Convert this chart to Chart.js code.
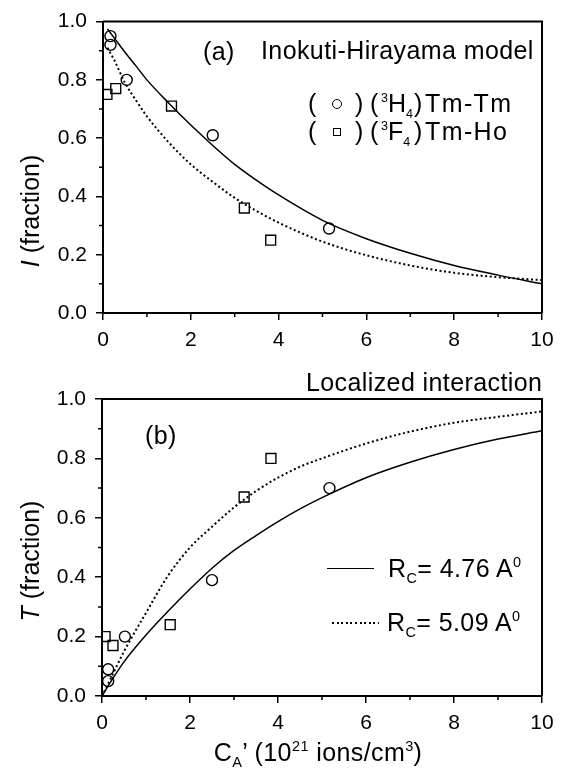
<!DOCTYPE html>
<html>
<head>
<meta charset="utf-8">
<script src="https://cdn.jsdelivr.net/npm/chart.js@4.4.0/dist/chart.umd.min.js"></script>
<style>
    body { margin: 0; background: #fff; width: 564px; height: 779px; overflow: hidden; position: relative;
           font-family: "Liberation Sans", Arial, Helvetica, sans-serif; color: #000; }
    .box { position: absolute; left: 0; width: 564px; }
    .t { position: absolute; white-space: nowrap; line-height: 1; font-size: 25px; letter-spacing: 0.4px; transform: translateY(-50%); }
    .c { transform: translate(-50%, -50%); }
    .rot { transform: translate(-50%, -50%) rotate(-90deg); letter-spacing: 0; }
    sup, sub { font-size: 0.58em; line-height: 0; }
    .lg { letter-spacing: 0; }
    .lg sup, .lg sub { font-size: 0.5em; }
    .mk { position: absolute; border: 1.4px solid #000; box-sizing: border-box; transform: translate(-50%, -50%); }
    .circ { width: 10px; height: 10px; border-radius: 50%; }
    .sq { width: 8px; height: 8px; }
    .ln { position: absolute; height: 0; border-top: 1.5px solid #000; }
    .dl { position: absolute; height: 2px; background: repeating-linear-gradient(90deg, #000 0 2px, transparent 2px 4.6px); }
</style>
</head>
<body>
<div class="box" style="top:0;height:368px"><canvas id="chartA" width="564" height="368"></canvas></div>
<div class="box" style="top:368px;height:411px"><canvas id="chartB" width="564" height="411"></canvas></div>

<!-- panel (a) texts -->
<div class="t" style="left:203px;top:51px">(a)</div>
<div class="t" style="left:261px;top:50px">Inokuti-Hirayama model</div>
<div class="t" style="left:308px;top:103px">(</div>
<div class="mk circ" style="left:337px;top:104px"></div>
<div class="t" style="left:355px;top:103px">)</div>
<div class="t" style="left:370px;top:103px">(</div>
<div class="t lg" style="left:381px;top:103px"><sup>3</sup>H<sub>4</sub></div>
<div class="t" style="left:414px;top:103px">)</div>
<div class="t" style="left:425px;top:103px;letter-spacing:1.4px">Tm-Tm</div>
<div class="t" style="left:308px;top:131px">(</div>
<div class="mk sq" style="left:337px;top:132px"></div>
<div class="t" style="left:355px;top:131px">)</div>
<div class="t" style="left:370px;top:131px">(</div>
<div class="t lg" style="left:381px;top:131px"><sup>3</sup>F<sub>4</sub></div>
<div class="t" style="left:414px;top:131px">)</div>
<div class="t" style="left:425px;top:131px;letter-spacing:1.4px">Tm-Ho</div>
<div class="t rot" style="left:30px;top:211px"><i>I</i> (fraction)</div>

<!-- panel (b) texts -->
<div class="t" style="left:306px;top:382px">Localized interaction</div>
<div class="t" style="left:145px;top:435px">(b)</div>
<div class="ln" style="left:327px;top:568px;width:47px"></div>
<div class="t" style="left:388px;top:568px">R<sub>C</sub>= 4.76 A<sup>0</sup></div>
<div class="dl" style="left:332px;top:622px;width:47px"></div>
<div class="t" style="left:387px;top:622px">R<sub>C</sub>= 5.09 A<sup>0</sup></div>
<div class="t rot" style="left:30px;top:561px"><i>T</i> (fraction)</div>
<div class="t c" style="left:318px;top:752px">C<sub>A</sub>&rsquo; (10<sup>21</sup> ions/cm<sup>3</sup>)</div>

<script>
// tick values
const majorX = [0, 2, 4, 6, 8, 10];
const minorX = [1, 3, 5, 7, 9];
const minorY = [0.1, 0.3, 0.5, 0.7, 0.9];

// panel (a): I (fraction), Inokuti-Hirayama model
const tmTmXa = [0.17, 0.17, 0.54, 2.50, 5.15];
const tmTmIa = [0.95, 0.92, 0.80, 0.61, 0.29];
const tmHoXa = [0.09, 0.29, 1.56, 3.22, 3.82];
const tmHoIa = [0.75, 0.77, 0.71, 0.36, 0.25];
const fitXa = [0.1, 0.25, 0.5, 0.75, 1, 1.5, 2, 2.5, 3, 3.5, 4, 5, 6, 7, 8, 9, 10];
const fitTmTmIa = [0.975, 0.945, 0.895, 0.848, 0.80, 0.72, 0.645, 0.575, 0.51, 0.455, 0.405, 0.318, 0.255, 0.205, 0.163, 0.13, 0.10];
const fitTmHoIa = [0.91, 0.87, 0.79, 0.73, 0.675, 0.585, 0.51, 0.45, 0.395, 0.35, 0.31, 0.245, 0.198, 0.163, 0.138, 0.123, 0.113];

// panel (b): T (fraction), localized interaction
const tmTmXb = [0.14, 0.14, 0.52, 2.50, 5.17];
const tmTmTb = [0.09, 0.05, 0.20, 0.39, 0.70];
const tmHoXb = [0.07, 0.25, 1.55, 3.23, 3.84];
const tmHoTb = [0.20, 0.17, 0.24, 0.67, 0.80];
const fitXb = [0, 0.25, 0.5, 1, 1.5, 2, 2.5, 3, 3.5, 4, 4.5, 5, 6, 7, 8, 9, 10];
const fitRc476 = [0, 0.06, 0.115, 0.205, 0.285, 0.36, 0.43, 0.49, 0.54, 0.587, 0.63, 0.668, 0.735, 0.787, 0.83, 0.865, 0.893];
const fitRc509 = [0, 0.075, 0.15, 0.28, 0.405, 0.50, 0.57, 0.635, 0.69, 0.735, 0.772, 0.80, 0.85, 0.89, 0.92, 0.94, 0.958];

const pts = (xs, ys) => xs.map((x, i) => ({ x: x, y: ys[i] }));

// frame top/right and short minor ticks
const frameTicks = {
    id: 'frameTicks',
    afterDraw(chart) {
        const ctx = chart.ctx;
        const a = chart.chartArea;
        const x = chart.scales.x, y = chart.scales.y;
        ctx.save();
        ctx.strokeStyle = '#000';
        ctx.lineWidth = 2;
        ctx.beginPath();
        ctx.moveTo(a.left, a.top);
        ctx.lineTo(a.right, a.top);
        ctx.lineTo(a.right, a.bottom);
        ctx.stroke();
        ctx.lineWidth = 1.5;
        ctx.beginPath();
        minorX.forEach(v => {
            const px = x.getPixelForValue(v);
            ctx.moveTo(px, a.bottom);
            ctx.lineTo(px, a.bottom + 4);
        });
        minorY.forEach(v => {
            const py = y.getPixelForValue(v);
            ctx.moveTo(a.left, py);
            ctx.lineTo(a.left - 4, py);
        });
        ctx.stroke();
        ctx.restore();
    }
};

function curve(data, dotted) {
    return {
        data: data,
        showLine: true,
        pointRadius: 0,
        borderColor: '#000',
        borderWidth: dotted ? 2 : 1.5,
        borderDash: dotted ? [2, 2.6] : [],
        cubicInterpolationMode: 'monotone',
        fill: false
    };
}

function marks(data, style) {
    return {
        data: data,
        showLine: false,
        pointStyle: style,
        pointRadius: style === 'rect' ? 7 : 5.5,
        pointBorderWidth: 1.4,
        pointBorderColor: '#000',
        pointBackgroundColor: 'rgba(255,255,255,0)'
    };
}

function getChart(id, datasets, yWidth, xHeight, pad) {
    const tickFont = { family: '"Liberation Sans", Arial, Helvetica, sans-serif', size: 21 };
    const config = {
        type: 'scatter',
        data: { datasets: datasets },
        options: {
            responsive: false,
            animation: false,
            layout: { padding: pad },
            plugins: { legend: { display: false }, tooltip: { enabled: false } },
            scales: {
                x: {
                    type: 'linear', min: 0, max: 10,
                    afterBuildTicks: s => { s.ticks = majorX.map(v => ({ value: v })); },
                    afterFit: s => { s.height = xHeight; },
                    border: { display: true, color: '#000', width: 2 },
                    grid: { drawOnChartArea: false, color: '#000', lineWidth: 1.5, tickLength: 7 },
                    ticks: { color: '#000', font: tickFont, padding: 8, maxRotation: 0, autoSkip: false }
                },
                y: {
                    min: 0, max: 1,
                    afterFit: s => { s.width = yWidth; },
                    border: { display: true, color: '#000', width: 2 },
                    grid: { drawOnChartArea: false, color: '#000', lineWidth: 1.5, tickLength: 7 },
                    ticks: { color: '#000', font: tickFont, padding: 9, stepSize: 0.2,
                             callback: v => v.toFixed(1) }
                }
            }
        },
        plugins: [frameTicks]
    };
    const ctx = document.getElementById(id).getContext('2d');
    return new Chart(ctx, config);
}

getChart('chartA', [
    marks(pts(tmTmXa, tmTmIa), 'circle'),
    marks(pts(tmHoXa, tmHoIa), 'rect'),
    curve(pts(fitXa, fitTmTmIa), false),
    curve(pts(fitXa, fitTmHoIa), true)
], 103, 55, { left: 0, right: 22, top: 16, bottom: 0 });

getChart('chartB', [
    marks(pts(tmTmXb, tmTmTb), 'circle'),
    marks(pts(tmHoXb, tmHoTb), 'rect'),
    curve(pts(fitXb, fitRc476), false),
    curve(pts(fitXb, fitRc509), true)
], 102, 83, { left: 0, right: 22, top: 31, bottom: 0 });
</script>
</body>
</html>
